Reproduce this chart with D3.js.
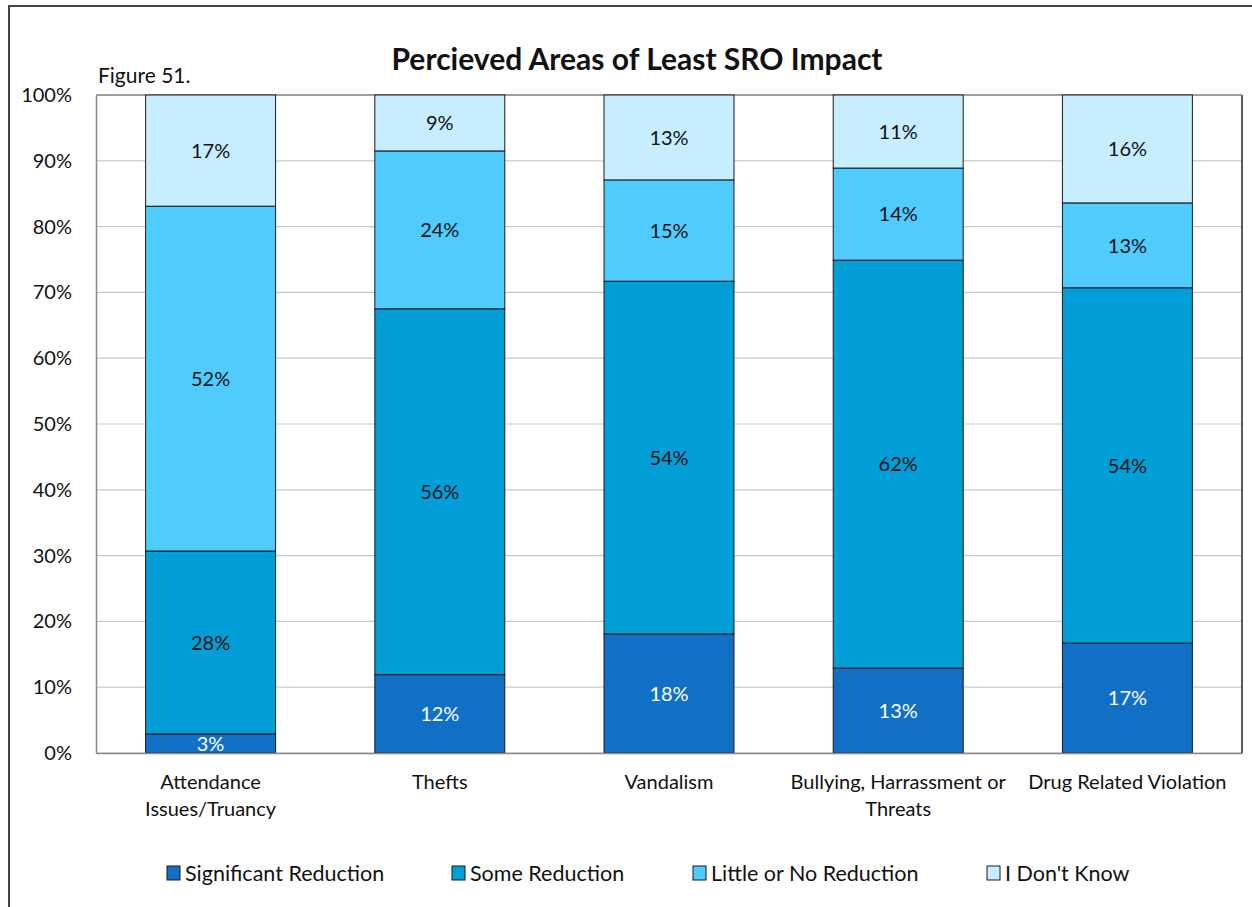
<!DOCTYPE html>
<html><head><meta charset="utf-8">
<script src="https://cdn.jsdelivr.net/npm/d3@7"></script>
<style>body{margin:0;background:#fff}svg{display:block}text{font-family:Lato,"Open Sans",sans-serif}</style>
</head><body><svg id="c" width="1252" height="907"></svg>
<script>
const categories = [["Attendance","Issues/Truancy"],["Thefts"],["Vandalism"],["Bullying, Harrassment or","Threats"],["Drug Related Violation"]];
const seriesNames = ["Significant Reduction","Some Reduction","Little or No Reduction","I Don't Know"];
const significant = [2.9, 11.9, 18.1, 12.9, 16.7];
const some = [27.8, 55.6, 53.6, 62.0, 54.0];
const little = [52.4, 24.0, 15.4, 14.0, 12.9];
const dontKnow = [16.9, 8.5, 12.9, 11.1, 16.4];
const yTicks = [0,10,20,30,40,50,60,70,80,90,100];
const colors = ["#116FC6","#019ED8","#4FCBFD","#C6EEFE"];
const labelColors = ["#fff","#111","#111","#111"];

const svg = d3.select("#c");
const m = {l:96, r:1242, t:95, b:753};
svg.append("path").attr("d","M9,910 L9,6 L1260,6").attr("fill","none").attr("stroke","#444").attr("stroke-width",2);

const x = d3.scaleBand().domain(d3.range(categories.length)).range([m.l,m.r]).paddingInner(0.433).paddingOuter(0.2165);
const y = d3.scaleLinear().domain([0,100]).range([m.b,m.t]);

svg.append("g").selectAll("line").data(yTicks).join("line")
  .attr("x1",m.l).attr("x2",m.r).attr("y1",d=>y(d)).attr("y2",d=>y(d))
  .attr("stroke","#c8c8c8").attr("stroke-width",1.2);
svg.append("line").attr("x1",m.r).attr("x2",m.r).attr("y1",m.t).attr("y2",m.b).attr("stroke","#222").attr("stroke-width",1.5);
svg.append("line").attr("x1",m.l).attr("x2",m.r).attr("y1",m.t).attr("y2",m.t).attr("stroke","#888").attr("stroke-width",1.5);

const data = categories.map((c,i)=>({i, v:[significant[i],some[i],little[i],dontKnow[i]]}));
const stack = d3.stack().keys([0,1,2,3]).value((d,k)=>d.v[k]);
const layers = stack(data);

layers.forEach((layer,k)=>{
  const g = svg.append("g");
  g.selectAll("rect").data(layer).join("rect")
    .attr("x",d=>x(d.data.i)).attr("width",x.bandwidth())
    .attr("y",d=>y(Math.min(d[1],100))).attr("height",d=>y(d[0])-y(Math.min(d[1],100)))
    .attr("fill",colors[k]).attr("stroke","#1a1a1a").attr("stroke-width",1);
  g.selectAll("text").data(layer).join("text")
    .attr("x",d=>x(d.data.i)+x.bandwidth()/2)
    .attr("y",d=>(y(d[0])+y(Math.min(d[1],100)))/2)
    .attr("dy","0.36em").attr("text-anchor","middle")
    .attr("font-size",20).attr("fill",labelColors[k])
    .text(d=>Math.round(d.data.v[k])+"%");
});

const ya = svg.append("g").attr("transform",`translate(${m.l},0)`).call(d3.axisLeft(y).tickValues(yTicks).tickSize(0).tickPadding(24).tickFormat(d=>d+"%"));
ya.select(".domain").attr("stroke","#888").attr("stroke-width",1.5);
ya.selectAll("text").attr("font-size",20).attr("fill","#111").attr("font-family","Lato,'Open Sans',sans-serif");
const xa = svg.append("g").attr("transform",`translate(0,${m.b})`).call(d3.axisBottom(x).tickSize(0).tickFormat(""));
xa.select(".domain").attr("stroke","#888").attr("stroke-width",1.5);

const cl = svg.append("g");
categories.forEach((c,i)=>{
  const t = cl.append("text").attr("x",x(i)+x.bandwidth()/2).attr("y",789).attr("text-anchor","middle").attr("font-size",20).attr("fill","#111");
  c.forEach((line,j)=>t.append("tspan").attr("x",x(i)+x.bandwidth()/2).attr("dy",j?27:0).text(line));
});

svg.append("text").attr("x",637).attr("y",70).attr("text-anchor","middle").attr("font-size",30).attr("font-weight","bold").attr("fill","#111").text("Percieved Areas of Least SRO Impact");
svg.append("text").attr("x",98).attr("y",83).attr("font-size",21).attr("fill","#111").text("Figure 51.");

const legX = [167,452,693,987];
const lg = svg.append("g");
seriesNames.forEach((n,k)=>{
  lg.append("rect").attr("x",legX[k]).attr("y",866).attr("width",13).attr("height",14).attr("fill",colors[k]).attr("stroke","#1a1a1a").attr("stroke-width",1);
  lg.append("text").attr("x",legX[k]+18).attr("y",881).attr("font-size",21.5).attr("fill","#111").text(n);
});
</script></body></html>
